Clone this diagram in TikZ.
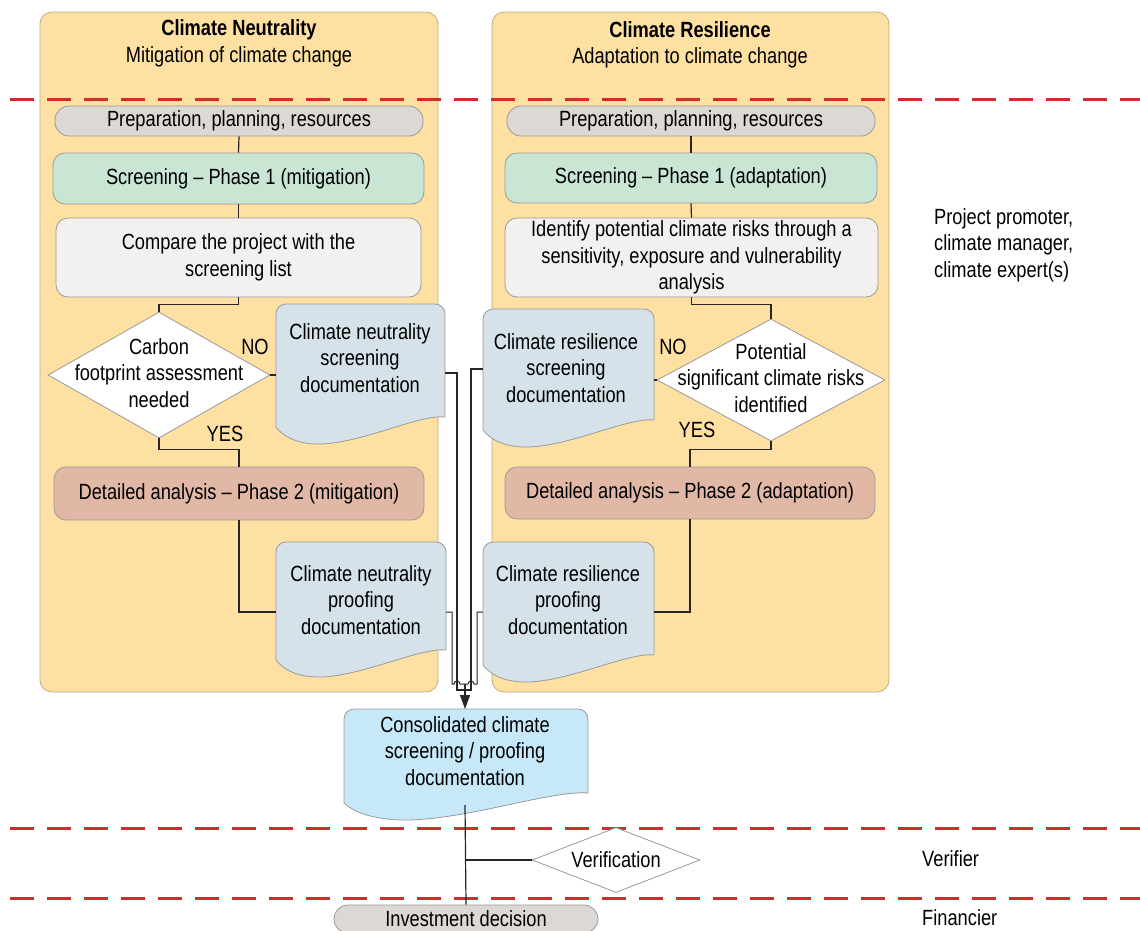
\documentclass[tikz,border=0pt]{standalone}
\usepackage{fontspec}
\setmainfont{Liberation Sans}[FakeStretch=0.83]
\usetikzlibrary{shapes.geometric,arrows.meta}
\definecolor{panelfill}{HTML}{FDE0A2}
\definecolor{paneldraw}{HTML}{C4A985}
\definecolor{prepfill}{HTML}{DCD8D4}
\definecolor{scrfill}{HTML}{C8E6D3}
\definecolor{cmpfill}{HTML}{F2F1EF}
\definecolor{detfill}{HTML}{E1B8A5}
\definecolor{docfill}{HTML}{D6E2EA}
\definecolor{consfill}{HTML}{C6E8F8}
\definecolor{redline}{HTML}{D02E2E}
\definecolor{boxdraw}{HTML}{9A9A9A}
\newcommand\docshape[5]{%
  \pgfmathsetmacro\dw{#3-#1}%
  \pgfmathsetmacro\dyR{#4-10}%
  \filldraw[docline, fill=#5] (#1,-#4) -- (#1,-#2-10) arc[start angle=180,end angle=90,radius=10] -- (#3-10,-#2) arc[start angle=90,end angle=0,radius=10] -- (#3,-\dyR) .. controls (#3-0.15*\dw,-\dyR+3) and (#1+0.5*\dw,-#4-17) .. (#1+0.25*\dw,-#4-17) .. controls (#1+0.12*\dw,-#4-17) and (#1+0.04*\dw,-#4-9) .. (#1,-#4) -- cycle;%
}
\begin{document}
\begin{tikzpicture}[x=1pt,y=1pt, font=\fontsize{22}{26.5}\selectfont,
 box/.style={draw=boxdraw, line width=0.8pt, rounded corners=12pt, align=center, inner sep=0pt},
 pill/.style={box, rounded corners=14pt},
 dia/.style={draw=boxdraw, line width=0.8pt, fill=white, shape=diamond, inner sep=0pt},
 txt/.style={align=center, inner sep=0pt},
 conn/.style={draw=black!85, line width=1.2pt},
 sep/.style={draw=redline, line width=3pt, dash pattern=on 24pt off 13pt},
 panel/.style={draw=paneldraw, fill=panelfill, line width=0.8pt, rounded corners=12pt, inner sep=0pt},
 docline/.style={draw=boxdraw, line width=0.8pt}]
\useasboundingbox (0,0) rectangle (1140,-930);

% panels
\node[panel, minimum width=398pt, minimum height=680pt] (panelL) at (239,-352) {};
\node[panel, minimum width=397pt, minimum height=680pt] (panelR) at (690.5,-352) {};
\node[txt] (titleL) at (239,-43.5) {\textbf{Climate Neutrality}\\Mitigation of climate change};
\node[txt] (titleR) at (690,-45) {\textbf{Climate Resilience}\\Adaptation to climate change};

% separators
\draw[sep] (10,-99) -- (1140,-99);
\draw[sep] (10,-828) -- (1140,-828);
\draw[sep] (10,-898) -- (1140,-898);

% left column
\node[pill, fill=prepfill, minimum width=368pt, minimum height=30pt] (prepL) at (239,-121) {Preparation, planning, resources};
\node[box, fill=scrfill, minimum width=371pt, minimum height=51pt] (scrL) at (238.5,-178.5) {Screening -- Phase 1 (mitigation)};
\node[box, fill=cmpfill, minimum width=365pt, minimum height=79pt] (cmpL) at (238.5,-257.5) {Compare the project with the\\screening list};
\node[dia, minimum width=222pt, minimum height=126pt] (dL) at (159,-375) {};
\node[txt] (dLt) at (159,-373) {Carbon\\footprint assessment\\needed};
\docshape{276}{304}{445}{427}{docfill}
\node[txt] (docL1) at (360,-358) {Climate neutrality\\screening\\documentation};
\node[txt] (noL) at (255,-347) {NO};
\node[txt] (yesL) at (225,-434) {YES};
\node[box, fill=detfill, minimum width=370pt, minimum height=53pt] (detL) at (239,-493.5) {Detailed analysis -- Phase 2 (mitigation)};
\docshape{276}{542}{446}{660}{docfill}
\node[txt] (docL2) at (361,-600) {Climate neutrality\\proofing\\documentation};

% right column
\node[pill, fill=prepfill, minimum width=368pt, minimum height=30pt] (prepR) at (691,-121) {Preparation, planning, resources};
\node[box, fill=scrfill, minimum width=372pt, minimum height=50pt] (scrR) at (691,-178) {Screening -- Phase 1 (adaptation)};
\node[box, fill=cmpfill, minimum width=373pt, minimum height=79pt] (idR) at (691.5,-257.5) {Identify potential climate risks through a\\sensitivity, exposure and vulnerability\\analysis};
\node[dia, minimum width=228pt, minimum height=122pt] (dR) at (771,-380) {};
\node[txt] (dRt) at (771,-378) {Potential\\significant climate risks\\identified};
\docshape{483}{309}{654}{430}{docfill}
\node[txt] (docR1) at (566,-368) {Climate resilience\\screening\\documentation};
\node[txt] (noR) at (673,-347) {NO};
\node[txt] (yesR) at (697,-430) {YES};
\node[box, fill=detfill, minimum width=370pt, minimum height=52pt] (detR) at (690,-493) {Detailed analysis -- Phase 2 (adaptation)};
\docshape{483}{542}{654}{665}{docfill}
\node[txt] (docR2) at (568,-600) {Climate resilience\\proofing\\documentation};

% consolidated
\docshape{344}{709}{588}{803}{consfill}
\node[txt] (cons) at (465,-751) {Consolidated climate\\screening / proofing\\documentation};
\node[dia, minimum width=168pt, minimum height=65pt] (ver) at (616,-860) {};
\node[txt] (vert) at (616,-860) {Verification};
\node[pill, fill=prepfill, minimum width=264pt, minimum height=28pt] (inv) at (466,-919) {Investment decision};

% side labels
\node[txt, align=left, anchor=west] (roleA) at (934,-245) {Project promoter,\\climate manager,\\climate expert(s)};
\node[txt, anchor=west] (roleB) at (922,-859) {Verifier};
\node[txt, anchor=west] (roleC) at (922,-918) {Financier};

% coordinates on document shapes
\coordinate (dl1w) at (276,-375);
\coordinate (dl1e) at (445,-373);
\coordinate (dl2w) at (276,-612);
\coordinate (dl2e) at (446,-612);
\coordinate (dr1e) at (654,-380);
\coordinate (dr1w) at (483,-369);
\coordinate (dr2e) at (654,-612);
\coordinate (dr2w) at (483,-612);
\coordinate (join) at (465,-684);
\coordinate (consN) at (465,-709);
\coordinate (consS) at (465,-805);
\coordinate (vb) at (465,-860);

% left connectors
\draw[conn] (prepL.south) -- (scrL.north);
\draw[conn] (scrL.south) -- (cmpL.north);
\draw[conn] (cmpL.south) |- ([yshift=7pt]dL.north) -- (dL.north);
\draw[conn] (dL.east) -- (dl1w);
\draw[conn] (dL.south) |- ([yshift=17pt]detL.north) -- (detL.north);
\draw[conn] (detL.south) |- (dl2w);

% right connectors
\draw[conn] (prepR.south) -- (scrR.north);
\draw[conn] (scrR.south) -- (idR.north);
\draw[conn] (idR.south) |- ([yshift=14pt]dR.north) -- (dR.north);
\draw[conn] (dR.west) -- (dr1e);
\draw[conn] (dR.south) |- ([yshift=17pt]detR.north) -- (detR.north);
\draw[conn] (detR.south) |- (dr2e);

% bundle to consolidated
\draw[conn] (dl1e) -- (457,-373) -- (457,-690) -- (465,-690);
\draw[conn] (dr1w) -- (471,-369) -- (471,-690) -- (465,-690);
\draw[conn, line width=1pt] (dl2e) -- (452,-612) -- (452,-684) -- (454,-684) arc[start angle=180,end angle=0,radius=3] -- (join);
\draw[conn, line width=1pt] (dr2w) -- (477,-612) -- (477,-684) -- (474,-684) arc[start angle=0,end angle=180,radius=3] -- (join);
\draw[conn, -{Triangle[length=14pt,width=10pt]}] (join) -- (consN);

% bottom
\draw[conn] (consS) -- (inv.north);
\draw[conn] (vb) -- (ver.west);
\end{tikzpicture}
\end{document}
